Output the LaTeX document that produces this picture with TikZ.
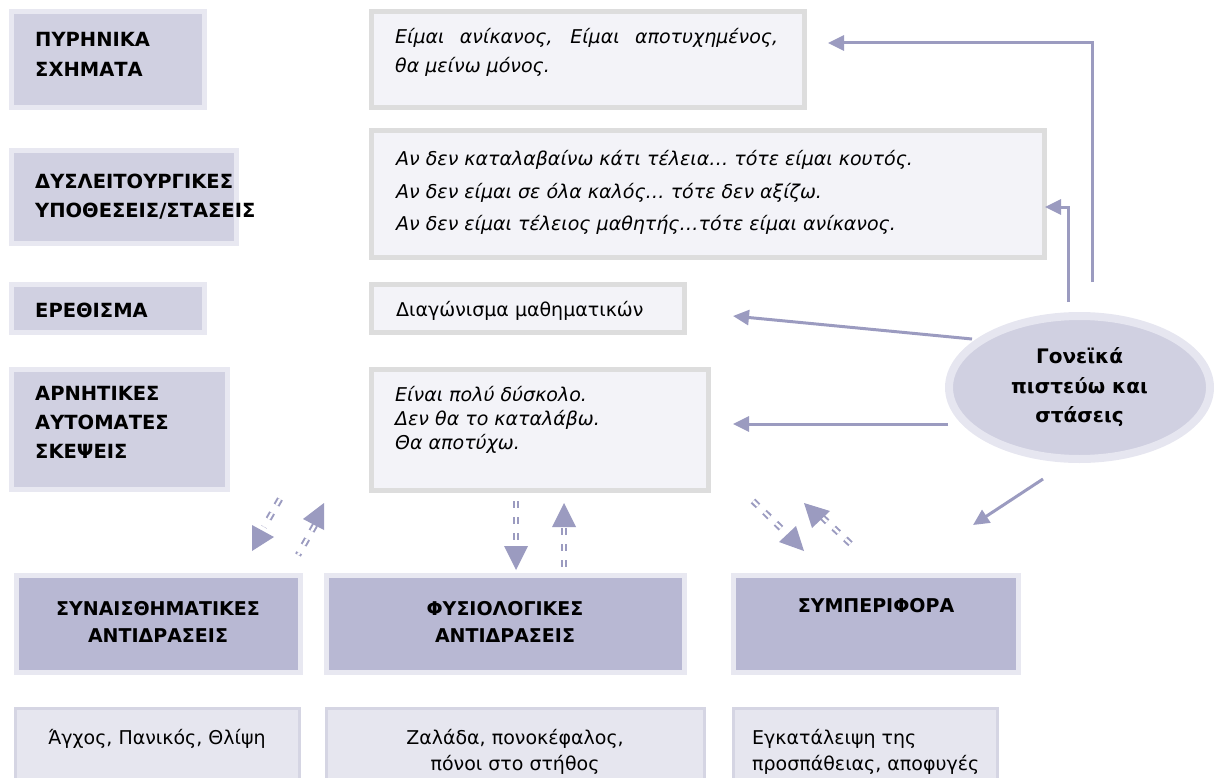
\documentclass[tikz,border=0pt]{standalone}
\usepackage{fontspec}
\setmainfont{DejaVu Sans}
\usetikzlibrary{arrows.meta,shapes.geometric}
\definecolor{lblfill}{RGB}{208,208,225}
\definecolor{lblborder}{RGB}{232,232,241}
\definecolor{txtfill}{RGB}{243,243,248}
\definecolor{txtborder}{RGB}{221,221,221}
\definecolor{hdrfill}{RGB}{184,184,211}
\definecolor{resfill}{RGB}{230,230,239}
\definecolor{resborder}{RGB}{213,213,227}
\definecolor{arrowcol}{RGB}{155,155,192}
\definecolor{ellborder}{RGB}{230,230,240}
\tikzset{
  lblbox/.style={rectangle,fill=lblfill,draw=lblborder,line width=5pt,inner sep=0pt},
  txtbox/.style={rectangle,fill=txtfill,draw=txtborder,line width=5pt,inner sep=0pt},
  hdrbox/.style={rectangle,fill=hdrfill,draw=lblborder,line width=5pt,inner sep=0pt},
  resbox/.style={rectangle,fill=resfill,draw=resborder,line width=3pt,inner sep=0pt},
  lbltext/.style={anchor=base west,inner sep=0pt,font=\fontsize{19.5}{22}\selectfont\bfseries},
  hdrtext/.style={anchor=base,inner sep=0pt,font=\fontsize{19}{22}\selectfont\bfseries},
  ittext/.style={anchor=base west,inner sep=0pt,font=\fontsize{19}{22}\selectfont\itshape},
  uptext/.style={anchor=base west,inner sep=0pt,font=\fontsize{19}{22}\selectfont},
  upctext/.style={anchor=base,inner sep=0pt,font=\fontsize{19}{22}\selectfont},
  conn/.style={draw=arrowcol,line width=3pt,-{Triangle[length=16pt,width=15pt]}},
  dashdbl/.style={draw=arrowcol,line width=2pt,double=white,double distance=2.5pt,dash pattern=on 7pt off 9pt},
  headtri/.style={fill=arrowcol},
  ellnode/.style={ellipse,fill=lblfill,draw=ellborder,line width=8pt,minimum width=261pt,minimum height=143pt,inner sep=0pt,align=center,font=\fontsize{20}{29.5}\selectfont\bfseries}
}
\begin{document}
\begin{tikzpicture}[x=1pt,y=-1pt]
\useasboundingbox (0,0) rectangle (1214,778);
\clip (0,0) rectangle (1214,778);
% left label boxes
\node[lblbox,minimum width=193pt,minimum height=96pt] (L1) at (108,59.5) {};
\node[lblbox,minimum width=225pt,minimum height=93pt] (L2) at (124,197) {};
\node[lblbox,minimum width=193pt,minimum height=48pt] (L3) at (108,308.5) {};
\node[lblbox,minimum width=216pt,minimum height=120pt] (L4) at (119.5,429.5) {};
\node[lbltext] (l1a) at (35,47) {ΠΥΡΗΝΙΚΑ};
\node[lbltext] (l1b) at (35,77) {ΣΧΗΜΑΤΑ};
\node[lbltext] (l2a) at (35,188) {ΔΥΣΛΕΙΤΟΥΡΓΙΚΕΣ};
\node[lbltext] (l2b) at (35,217) {ΥΠΟΘΕΣΕΙΣ/ΣΤΑΣΕΙΣ};
\node[lbltext] (l3a) at (35,317) {ΕΡΕΘΙΣΜΑ};
\node[lbltext] (l4a) at (35,400) {ΑΡΝΗΤΙΚΕΣ};
\node[lbltext] (l4b) at (35,429) {ΑΥΤΟΜΑΤΕΣ};
\node[lbltext] (l4c) at (35,458) {ΣΚΕΨΕΙΣ};
% text boxes
\node[txtbox,minimum width=433pt,minimum height=96pt] (T1) at (588,59.5) {};
\node[txtbox,minimum width=673pt,minimum height=127pt] (T2) at (708,194) {};
\node[txtbox,minimum width=313pt,minimum height=48pt] (T3) at (528,308.5) {};
\node[txtbox,minimum width=337pt,minimum height=121pt] (T4) at (540,430) {};
\node[ittext] (t1a) at (395,44) {\makebox[383pt][s]{Είμαι ανίκανος, Είμαι αποτυχημένος,}};
\node[ittext] (t1b) at (395,73) {θα μείνω μόνος.};
\node[ittext] (t2a) at (396,166) {Αν δεν καταλαβαίνω κάτι τέλεια… τότε είμαι κουτός.};
\node[ittext] (t2b) at (396,198) {Αν δεν είμαι σε όλα καλός… τότε δεν αξίζω.};
\node[ittext] (t2c) at (396,230) {Αν δεν είμαι τέλειος μαθητής…τότε είμαι ανίκανος.};
\node[uptext] (t3a) at (396,316) {Διαγώνισμα μαθηματικών};
\node[ittext] (t4a) at (395,401) {Είναι πολύ δύσκολο.};
\node[ittext] (t4b) at (395,425) {Δεν θα το καταλάβω.};
\node[ittext] (t4c) at (395,449) {Θα αποτύχω.};
% ellipse
\node[ellnode] (ell) at (1079.5,387.5) {Γονεϊκά\\πιστεύω και\\στάσεις};
% header boxes
\node[hdrbox,minimum width=284pt,minimum height=97pt] (H1) at (158.5,624) {};
\node[hdrbox,minimum width=358pt,minimum height=97pt] (H2) at (505.5,624) {};
\node[hdrbox,minimum width=285pt,minimum height=97pt] (H3) at (876,624) {};
\node[hdrtext] (h1a) at (158,615) {ΣΥΝΑΙΣΘΗΜΑΤΙΚΕΣ};
\node[hdrtext] (h1b) at (158,642) {ΑΝΤΙΔΡΑΣΕΙΣ};
\node[hdrtext] (h2a) at (505,615) {ΦΥΣΙΟΛΟΓΙΚΕΣ};
\node[hdrtext] (h2b) at (505,642) {ΑΝΤΙΔΡΑΣΕΙΣ};
\node[hdrtext] (h3a) at (876,612) {ΣΥΜΠΕΡΙΦΟΡΑ};
% result boxes
\node[resbox,minimum width=284pt,minimum height=90pt] (R1) at (157.5,753.5) {};
\node[resbox,minimum width=378pt,minimum height=90pt] (R2) at (515.5,753.5) {};
\node[resbox,minimum width=264pt,minimum height=90pt] (R3) at (865.5,753.5) {};
\node[upctext] (r1a) at (157,744) {Άγχος, Πανικός, Θλίψη};
\node[upctext] (r2a) at (515,744) {Ζαλάδα, πονοκέφαλος,};
\node[upctext] (r2b) at (515,770) {πόνοι στο στήθος};
\node[uptext] (r3a) at (752,744) {Εγκατάλειψη της};
\node[uptext] (r3b) at (752,770) {προσπάθειας, αποφυγές};
% connectors from the ellipse
\coordinate (a1s) at (1092,282);
\coordinate (a1e) at (828,43);
\coordinate (a2s) at (1068,302);
\coordinate (a2e) at (1045,207);
\coordinate (a3s) at (972,339);
\coordinate (a3e) at (733,316);
\coordinate (a4s) at (948,424);
\coordinate (a4e) at (733,424);
\coordinate (a5s) at (1043,479);
\coordinate (a5e) at (973,525);
\draw[conn] (a1s) |- (a1e);
\draw[conn] (a2s) |- (a2e);
\draw[conn] (a3s) -- (a3e);
\draw[conn] (a4s) -- (a4e);
\draw[conn] (a5s) -- (a5e);
% dashed double arrows
\coordinate (d1s) at (280,499);
\coordinate (d1e) at (264,527);
\coordinate (d2s) at (315,525);
\coordinate (d2e) at (298,555);
\coordinate (d3s) at (516,501);
\coordinate (d3e) at (516,546);
\coordinate (d4s) at (564,528);
\coordinate (d4e) at (564,573);
\coordinate (d5s) at (753,501);
\coordinate (d5e) at (787,534);
\coordinate (d6s) at (822,517);
\coordinate (d6e) at (856,549);
\draw[dashdbl] (d1s) -- (d1e);
\draw[dashdbl] (d2s) -- (d2e);
\draw[dashdbl] (d3s) -- (d3e);
\draw[dashdbl] (d4s) -- (d4e);
\draw[dashdbl] (d5s) -- (d5e);
\draw[dashdbl] (d6s) -- (d6e);
\fill[headtri] (252,525) -- (274,537) -- (252,551) -- cycle;
\fill[headtri] (303,519) -- (324,503) -- (324,530) -- cycle;
\fill[headtri] (504,546) -- (528,546) -- (516,570) -- cycle;
\fill[headtri] (552,527) -- (576,527) -- (564,503) -- cycle;
\fill[headtri] (779,542) -- (796,526) -- (804,551) -- cycle;
\fill[headtri] (804,503) -- (830,511) -- (812,528) -- cycle;
\end{tikzpicture}
\end{document}
